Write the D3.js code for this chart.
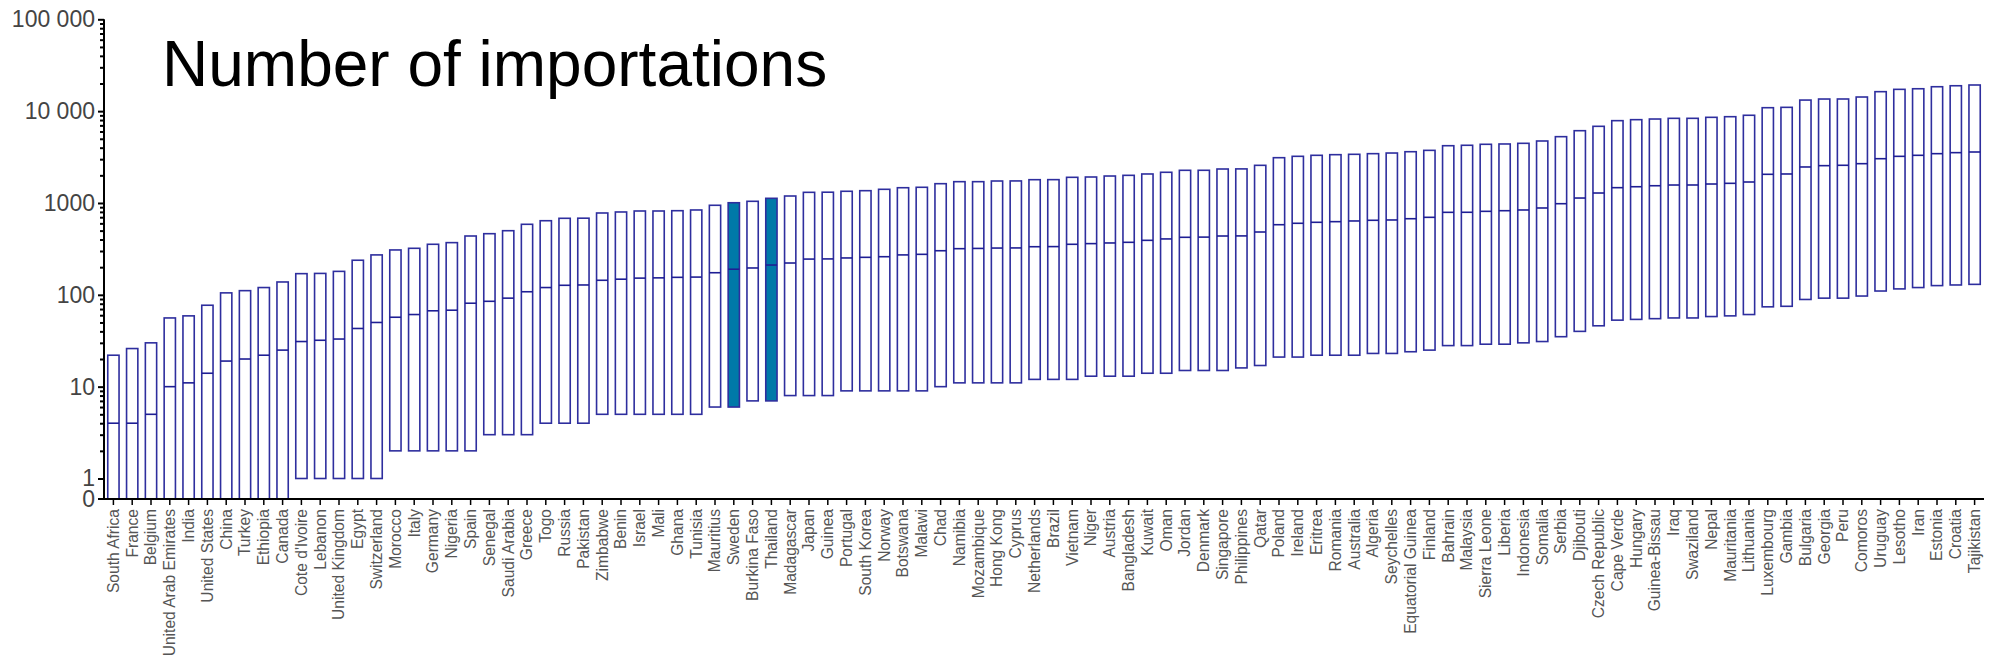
<!DOCTYPE html>
<html>
<head>
<meta charset="utf-8">
<script src="https://cdn.jsdelivr.net/npm/d3@7"></script>
<style>
  html, body { margin: 0; padding: 0; background: #fff; }
  svg { display: block; font-family: "Liberation Sans", Arial, sans-serif; }
</style>
</head>
<body>
<svg id="chart" width="1990" height="664"></svg>
<script>
// Countries, ordered by number of importations
const countries = [
  "South Africa","France","Belgium","United Arab Emirates","India","United States","China","Turkey","Ethiopia","Canada",
  "Cote d'Ivoire","Lebanon","United Kingdom","Egypt","Switzerland","Morocco","Italy","Germany","Nigeria","Spain",
  "Senegal","Saudi Arabia","Greece","Togo","Russia","Pakistan","Zimbabwe","Benin","Israel","Mali",
  "Ghana","Tunisia","Mauritius","Sweden","Burkina Faso","Thailand","Madagascar","Japan","Guinea","Portugal",
  "South Korea","Norway","Botswana","Malawi","Chad","Namibia","Mozambique","Hong Kong","Cyprus","Netherlands",
  "Brazil","Vietnam","Niger","Austria","Bangladesh","Kuwait","Oman","Jordan","Denmark","Singapore",
  "Philippines","Qatar","Poland","Ireland","Eritrea","Romania","Australia","Algeria","Seychelles","Equatorial Guinea",
  "Finland","Bahrain","Malaysia","Sierra Leone","Liberia","Indonesia","Somalia","Serbia","Djibouti","Czech Republic",
  "Cape Verde","Hungary","Guinea-Bissau","Iraq","Swaziland","Nepal","Mauritania","Lithuania","Luxembourg","Gambia",
  "Bulgaria","Georgia","Peru","Comoros","Uruguay","Lesotho","Iran","Estonia","Croatia","Tajikistan"
];

// Lower bound of the interval
const low = [
  0,0,0,0,0,0,0,0,0,0,
  1,1,1,1,1,2,2,2,2,2,
  3,3,3,4,4,4,5,5,5,5,
  5,5,6,6,7,7,8,8,8,9,
  9,9,9,9,10,11,11,11,11,12,
  12,12,13,13,13,14,14,15,15,15,
  16,17,21,21,22,22,22,23,23,24,
  25,28,28,29,29,30,31,35,40,46,
  53,54,55,56,56,58,59,61,74,75,
  89,92,92,97,110,116,120,126,128,130
];

// Median
const median = [
  4,4,5,10,11,14,19,20,22,25,
  31,32,33,43,50,57,61,67,68,81,
  85,92,108,120,127,128,144,148,152,153,
  155,156,174,190,196,211,222,245,246,252,
  256,260,272,276,302,318,320,323,324,334,
  335,355,361,367,373,392,406,423,425,437,
  438,483,580,601,616,626,637,648,653,674,
  698,791,792,811,824,839,882,982,1132,1284,
  1468,1503,1541,1569,1570,1609,1637,1692,2052,2069,
  2466,2549,2573,2679,3035,3220,3304,3443,3532,3590
];

// Upper bound of the interval
const high = [
  22,26,30,56,59,77,105,111,120,138,
  170,171,180,238,272,308,321,355,370,437,
  463,499,586,641,681,683,778,798,818,818,
  824,839,944,1006,1043,1124,1191,1306,1310,1341,
  1361,1409,1466,1482,1622,1706,1706,1735,1738,1793,
  1795,1903,1918,1966,2000,2069,2159,2269,2270,2344,
  2350,2570,3112,3222,3304,3357,3388,3443,3499,3616,
  3741,4203,4249,4355,4389,4463,4731,5272,6124,6835,
  7876,8075,8208,8350,8352,8563,8700,9015,10900,11000,
  13200,13550,13560,14250,16290,17270,17530,18440,18900,19260
];

// Countries drawn with a filled interval
const highlighted = ["Sweden", "Thailand"];

// Y-axis tick values and labels
const majorTicks = [1, 10, 100, 1000, 10000, 100000];
const majorLabels = ["1", "10", "100", "1000", "10 000", "100 000"];
const zeroLabel = "0";

const titleText = "Number of importations";

const svg = d3.select("#chart");

const left = 104, right = 1984;
const baseY = 499;

const x = d3.scaleBand()
  .domain(countries)
  .range([left, right])
  .paddingInner(0.4)
  .paddingOuter(0.2);

const yLog = d3.scaleLog()
  .domain([1, 100000])
  .range([478.5, 19.3]);

// zero sits on the baseline below the log range
const y = v => (v <= 0 ? baseY : yLog(v));

const rows = countries.map((c, i) => ({ c, lo: low[i], md: median[i], hi: high[i] }));

// Intervals
const g = svg.append("g");
g.selectAll("rect.iv")
  .data(rows)
  .join("rect")
  .attr("class", "iv")
  .attr("x", d => x(d.c))
  .attr("width", x.bandwidth())
  .attr("y", d => y(d.hi))
  .attr("height", d => y(d.lo) - y(d.hi))
  .attr("fill", d => highlighted.includes(d.c) ? "#0079a8" : "#fff")
  .attr("stroke", "#2e2e9e")
  .attr("stroke-width", 1.6);

// Medians
g.selectAll("line.md")
  .data(rows)
  .join("line")
  .attr("class", "md")
  .attr("x1", d => x(d.c))
  .attr("x2", d => x(d.c) + x.bandwidth())
  .attr("y1", d => y(d.md))
  .attr("y2", d => y(d.md))
  .attr("stroke", "#1e1e94")
  .attr("stroke-width", 1.6);

// Y axis: minor ticks
const minorTicks = [];
for (let e = 0; e < 5; e++) for (let k = 2; k <= 9; k++) minorTicks.push(k * Math.pow(10, e));

const yMinor = svg.append("g")
  .attr("transform", `translate(${left},0)`)
  .call(d3.axisLeft(yLog).tickValues(minorTicks).tickSize(4).tickFormat(""));
yMinor.select(".domain").remove();
yMinor.selectAll("line").attr("stroke", "#000").attr("stroke-width", 2);

// Y axis: major ticks with labels
const yMajor = svg.append("g")
  .attr("transform", `translate(${left},0)`)
  .call(d3.axisLeft(yLog).tickValues(majorTicks).tickSize(6).tickPadding(3)
    .tickFormat((d, i) => majorLabels[i]));
yMajor.select(".domain").remove();
yMajor.selectAll("line").attr("stroke", "#000").attr("stroke-width", 2);
yMajor.selectAll("text")
  .attr("font-size", 23)
  .attr("fill", "#444")
  .attr("font-family", "'Liberation Sans', Arial, sans-serif");

// zero tick
svg.append("line")
  .attr("x1", left - 6).attr("x2", left)
  .attr("y1", baseY).attr("y2", baseY)
  .attr("stroke", "#000").attr("stroke-width", 2);
svg.append("text")
  .attr("x", left - 9).attr("y", baseY + 1)
  .attr("dy", "0.32em")
  .attr("text-anchor", "end")
  .attr("font-size", 23)
  .attr("fill", "#444")
  .text(zeroLabel);

// Y axis line
svg.append("line")
  .attr("x1", left).attr("x2", left)
  .attr("y1", baseY + 1).attr("y2", yLog(100000))
  .attr("stroke", "#000").attr("stroke-width", 2);

// X axis
const xAxis = svg.append("g")
  .attr("transform", `translate(0,${baseY})`)
  .call(d3.axisBottom(x).tickSize(6).tickSizeOuter(0));
xAxis.select(".domain").remove();
xAxis.selectAll("line").attr("stroke", "#000").attr("stroke-width", 1.5);
xAxis.selectAll("text")
  .attr("font-size", 15.6)
  .attr("fill", "#555")
  .attr("font-family", "'Liberation Sans', Arial, sans-serif")
  .attr("text-anchor", "end")
  .attr("transform", "rotate(-90)")
  .attr("x", -10)
  .attr("y", 0)
  .attr("dy", "0.35em");

svg.append("line")
  .attr("x1", left - 1).attr("x2", right)
  .attr("y1", baseY).attr("y2", baseY)
  .attr("stroke", "#000").attr("stroke-width", 2);

// Title
svg.append("text")
  .attr("x", 162)
  .attr("y", 86)
  .attr("font-size", 64)
  .attr("fill", "#000")
  .text(titleText);
</script>
</body>
</html>
